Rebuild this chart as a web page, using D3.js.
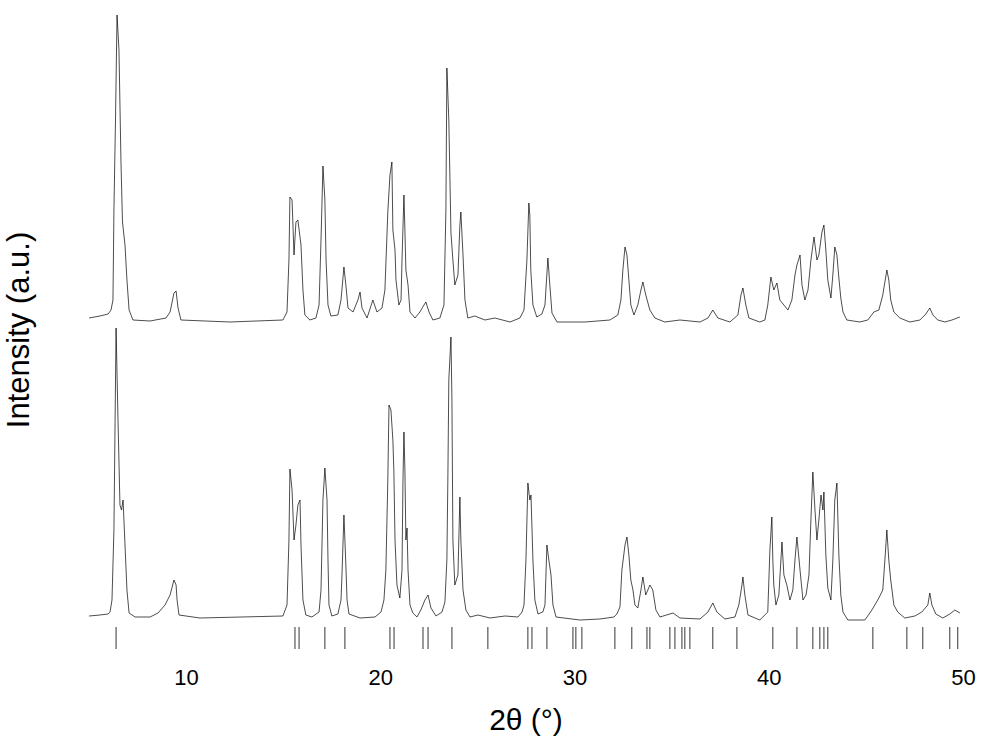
<!DOCTYPE html>
<html><head><meta charset="utf-8">
<script src="https://cdn.jsdelivr.net/npm/d3@7"></script>
<style>
html,body{margin:0;padding:0;background:#fff;}
svg{display:block;font-family:"Liberation Sans",Arial,sans-serif;}
</style></head>
<body>
<svg id="chart" width="982" height="748"></svg>
<script>
// x ticks (2θ, degrees)
const xTicks = [10, 20, 30, 40, 50];
// vertical offset of upper pattern (a.u.)
const upperOffset = 296;

// upper pattern: [2θ, intensity]
const upperPattern = [
[5.01,4],[5.57,6],[5.99,8],[6.14,12],[6.24,22],[6.29,112],[6.37,202],[6.45,307],[6.55,272],[6.65,162],
[6.73,100],[6.86,77],[6.96,42],[7.07,12],[7.27,2],[8.15,1],[8.97,4],[9.18,10],[9.38,29],[9.49,31],
[9.59,14],[9.74,2],[12.26,0],[14.99,2],[15.20,10],[15.30,62],[15.35,125],[15.46,122],[15.56,67],[15.66,100],
[15.76,102],[15.92,77],[16.02,32],[16.12,7],[16.38,2],[16.69,4],[16.85,17],[16.95,82],[17.05,156],[17.15,122],
[17.21,62],[17.31,17],[17.46,6],[17.82,7],[17.98,22],[18.13,55],[18.23,37],[18.34,14],[18.60,10],[18.85,22],
[18.96,30],[19.06,14],[19.32,4],[19.62,22],[19.83,10],[20.09,14],[20.24,32],[20.39,110],[20.50,147],[20.60,160],
[20.65,92],[20.76,72],[20.81,42],[20.96,17],[21.07,22],[21.12,62],[21.22,127],[21.27,92],[21.32,52],[21.43,37],
[21.53,10],[21.79,4],[22.04,10],[22.25,17],[22.35,20],[22.51,10],[22.71,2],[23.07,4],[23.28,17],[23.38,112],
[23.43,254],[23.53,202],[23.64,89],[23.74,62],[23.84,37],[24.00,47],[24.10,97],[24.15,110],[24.26,67],[24.36,22],
[24.51,4],[24.87,6],[25.39,2],[25.90,4],[26.68,0],[27.19,4],[27.40,12],[27.55,62],[27.65,119],[27.70,107],
[27.75,52],[27.86,17],[28.06,5],[28.32,8],[28.48,17],[28.63,64],[28.73,37],[28.84,9],[29.10,0],[30.54,0],
[31.82,2],[32.23,7],[32.39,22],[32.49,52],[32.60,75],[32.70,67],[32.80,42],[32.90,17],[33.06,7],[33.26,17],
[33.42,32],[33.52,40],[33.67,27],[33.88,12],[34.14,4],[34.65,0],[35.43,2],[36.46,0],[36.87,4],[37.12,12],
[37.38,4],[38.00,0],[38.41,7],[38.57,27],[38.67,34],[38.82,17],[38.98,4],[39.54,0],[39.80,2],[39.95,17],
[40.11,45],[40.26,32],[40.42,39],[40.57,22],[40.78,17],[40.99,12],[41.19,22],[41.35,47],[41.45,57],[41.61,67],
[41.71,37],[41.86,22],[42.02,32],[42.17,62],[42.33,85],[42.48,62],[42.58,67],[42.74,90],[42.84,97],[42.94,72],
[43.04,42],[43.20,24],[43.30,47],[43.40,75],[43.51,67],[43.61,44],[43.71,24],[43.82,10],[44.02,2],[44.69,0],
[45.10,2],[45.41,10],[45.67,12],[45.87,27],[46.08,52],[46.18,42],[46.28,22],[46.44,10],[46.75,4],[47.26,0],
[47.78,2],[48.09,8],[48.29,14],[48.45,7],[48.70,2],[49.07,0],[49.43,2],[49.84,5]
];

// lower pattern: [2θ, intensity]
const lowerPattern = [
[5.01,2],[5.57,3],[5.99,4],[6.09,6],[6.19,18],[6.29,88],[6.40,290],[6.50,198],[6.60,113],[6.68,108],
[6.76,118],[6.86,73],[6.96,28],[7.07,5],[7.38,1],[8.15,1],[8.56,5],[8.92,13],[9.18,23],[9.38,38],
[9.49,33],[9.54,18],[9.64,3],[10.72,0],[14.99,2],[15.20,13],[15.30,78],[15.35,149],[15.46,128],[15.56,78],
[15.66,93],[15.76,113],[15.87,118],[15.92,73],[16.02,18],[16.17,3],[16.48,1],[16.85,6],[16.95,28],[17.05,118],
[17.15,150],[17.26,118],[17.31,58],[17.36,13],[17.51,2],[17.82,4],[17.98,18],[18.03,43],[18.13,103],[18.18,78],
[18.23,53],[18.29,18],[18.39,4],[18.96,0],[19.73,1],[20.04,6],[20.19,18],[20.29,48],[20.39,138],[20.45,213],
[20.55,208],[20.65,178],[20.70,148],[20.76,78],[20.86,33],[21.01,20],[21.12,48],[21.17,138],[21.22,186],[21.27,148],
[21.32,78],[21.38,90],[21.43,48],[21.53,13],[21.68,5],[21.89,1],[22.09,8],[22.30,18],[22.46,23],[22.61,10],
[22.87,2],[23.18,6],[23.33,16],[23.43,58],[23.48,138],[23.53,238],[23.64,281],[23.69,218],[23.74,78],[23.84,33],
[24.00,43],[24.10,121],[24.15,78],[24.26,28],[24.41,8],[24.62,1],[25.03,3],[25.65,0],[26.42,2],[27.09,1],
[27.30,6],[27.40,13],[27.50,58],[27.60,135],[27.70,118],[27.76,123],[27.86,58],[27.96,18],[28.12,4],[28.37,6],
[28.48,13],[28.58,73],[28.68,58],[28.79,43],[28.89,13],[29.05,1],[30.28,-2],[31.31,-1],[32.03,1],[32.18,4],
[32.34,11],[32.44,48],[32.60,73],[32.70,81],[32.80,63],[32.90,38],[33.01,28],[33.11,13],[33.26,10],[33.42,28],
[33.52,41],[33.67,23],[33.88,33],[34.03,28],[34.19,8],[34.40,1],[35.07,5],[35.43,0],[36.46,-1],[36.87,6],
[37.12,15],[37.33,6],[37.74,-1],[38.26,1],[38.46,13],[38.62,33],[38.67,41],[38.77,23],[38.93,3],[39.54,-2],
[39.95,6],[40.06,68],[40.16,101],[40.21,58],[40.26,33],[40.37,13],[40.52,23],[40.68,76],[40.78,43],[40.93,33],
[41.09,18],[41.24,28],[41.35,58],[41.45,81],[41.61,48],[41.76,18],[41.92,23],[42.07,43],[42.17,98],[42.27,146],
[42.38,108],[42.48,78],[42.58,98],[42.69,123],[42.79,108],[42.84,126],[42.94,63],[43.04,30],[43.20,18],[43.30,58],
[43.40,118],[43.51,135],[43.61,63],[43.71,23],[43.82,6],[44.07,-2],[44.95,-2],[45.31,8],[45.67,20],[45.87,28],
[45.98,58],[46.08,88],[46.18,58],[46.28,38],[46.44,13],[46.64,6],[47.00,0],[47.52,2],[47.88,6],[48.19,13],
[48.29,25],[48.40,13],[48.60,4],[48.96,0],[49.32,4],[49.58,8],[49.84,5]
];

// reference stick positions (2θ)
const referencePeaks = [
6.40,15.61,15.82,17.15,18.18,20.50,20.71,22.20,22.46,23.69,25.54,27.60,27.81,28.58,29.92,30.07,30.38,
32.08,32.95,33.73,33.88,34.91,35.17,35.53,35.68,35.94,37.12,38.36,40.21,41.45,42.27,42.63,42.84,43.04,
45.36,47.11,47.93,49.32,49.73
];

const xLabel = "2θ (°)";
const yLabel = "Intensity (a.u.)";

const svg = d3.select("#chart");
const x = d3.scaleLinear().domain([10, 50]).range([186, 963]);
const y = d3.scaleLinear().domain([0, 600]).range([618, 18]);
const ink = "#000";

const line = d3.line().x(d => x(d[0])).y(d => y(d[1]));

svg.append("path")
  .datum(upperPattern.map(d => [d[0], d[1] + upperOffset]))
  .attr("d", line).attr("fill", "none").attr("stroke", ink).attr("stroke-width", 0.7)
  .attr("stroke-linejoin", "round");

svg.append("path")
  .datum(lowerPattern)
  .attr("d", line).attr("fill", "none").attr("stroke", ink).attr("stroke-width", 0.7)
  .attr("stroke-linejoin", "round");

// reference sticks below lower pattern
const stickY = d3.scaleLinear().domain([0, 1]).range([649, 627]);
svg.append("g").selectAll("line").data(referencePeaks).join("line")
  .attr("x1", d => x(d)).attr("x2", d => x(d))
  .attr("y1", stickY(0)).attr("y2", stickY(1))
  .attr("stroke", ink).attr("stroke-width", 0.8);

// x axis (labels only)
const xAxis = d3.axisBottom(x).tickValues(xTicks).tickSize(0).tickPadding(5).tickFormat(d3.format("d"));
const gx = svg.append("g").attr("transform", "translate(0,664)").call(xAxis);
gx.select(".domain").remove();
gx.selectAll("text").attr("font-size", 22).attr("fill", ink).attr("font-family", "Liberation Sans, Arial, sans-serif");

svg.append("text")
  .attr("x", 526).attr("y", 730).attr("text-anchor", "middle")
  .attr("font-size", 30).attr("fill", ink).text(xLabel);

svg.append("text")
  .attr("transform", "translate(29,330) rotate(-90)")
  .attr("text-anchor", "middle")
  .attr("font-size", 31).attr("fill", ink).text(yLabel);
</script>
</body></html>
